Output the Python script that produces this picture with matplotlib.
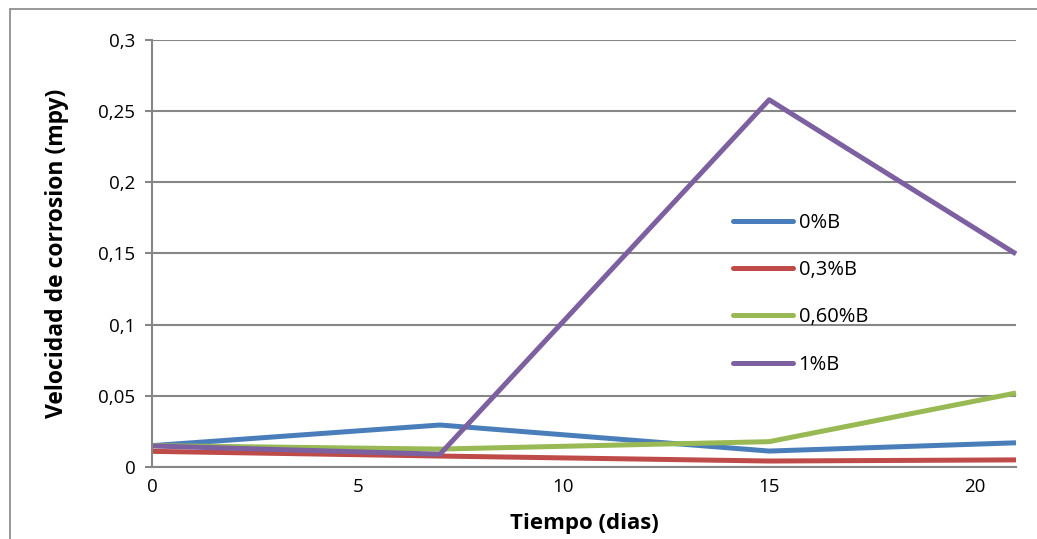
import matplotlib
matplotlib.use("Agg")
import matplotlib.pyplot as plt
from matplotlib.patches import Rectangle

plt.rcParams['font.family'] = ['Open Sans', 'DejaVu Sans']

dias = [0, 7, 15, 21]
b0 = [0.015, 0.0295, 0.0112, 0.017]
b03 = [0.011, 0.0077, 0.0042, 0.005]
b060 = [0.015, 0.0126, 0.0178, 0.052]
b1 = [0.0148, 0.009, 0.258, 0.1497]
labels = ['0%B', '0,3%B', '0,60%B', '1%B']
colors = ['#4a7ebb', '#be4b48', '#98b954', '#7d60a0']
yticks = [0, 0.05, 0.1, 0.15, 0.2, 0.25, 0.3]
yticklabels = ['0', '0,05', '0,1', '0,15', '0,2', '0,25', '0,3']
xticks = [0, 5, 10, 15, 20]

W, H = 1037, 539
fig = plt.figure(figsize=(W/100, H/100), dpi=100)
ax = fig.add_axes([152/W, 1-467/H, (1016-152)/W, (467-40)/H])

for ys, lab, c in zip([b0, b03, b060, b1], labels, colors):
    ax.plot(dias, ys, color=c, lw=3.6, label=lab, solid_capstyle='butt', clip_on=False)

ax.set_xlim(0, 21)
ax.set_ylim(0, 0.3)
ax.set_yticks(yticks)
ax.set_yticklabels(yticklabels)
ax.set_xticks(xticks)
ax.tick_params(axis='y', length=5, color='#868686', width=1.5, labelsize=13.5, pad=7)
ax.tick_params(axis='x', length=0, labelsize=13.5, pad=8)
ax.grid(axis='y', color='#868686', lw=1.5)
ax.set_axisbelow(True)
for s in ['top', 'right']:
    ax.spines[s].set_visible(False)
for s in ['left', 'bottom']:
    ax.spines[s].set_color('#868686')
    ax.spines[s].set_linewidth(1.5)

ax.set_ylabel('Velocidad de corrosion (mpy)', fontsize=16.5, fontweight='bold', labelpad=21)
ax.set_xlabel('Tiempo (dias)', fontsize=16, fontweight='bold', labelpad=12)

leg = ax.legend(loc='upper left', bbox_to_anchor=(573/864, 1-165/427), frameon=False,
                fontsize=14.5, handlelength=3.0, handletextpad=0.25, labelspacing=1.35,
                borderaxespad=0)
for h in leg.get_lines():
    h.set_solid_capstyle('round')

fig.patches.append(Rectangle((10/W, -0.1), 1.2, 1-9/H+0.1, transform=fig.transFigure,
                             fill=False, edgecolor='#868686', lw=1.2))

fig.savefig('out.png', dpi=100)
